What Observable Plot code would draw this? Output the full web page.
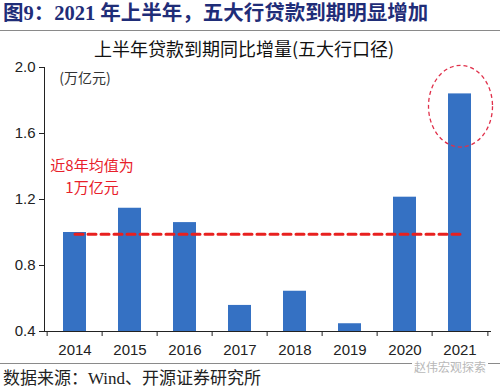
<!DOCTYPE html>
<html>
<head>
<meta charset="utf-8">
<script src="https://cdn.jsdelivr.net/npm/d3@7"></script>
<script src="https://cdn.jsdelivr.net/npm/@observablehq/plot@0.6"></script>
<style>
  html, body { margin: 0; padding: 0; background: #fff; }
  #wrap { position: relative; width: 500px; height: 392px; overflow: hidden; font-family: "Noto Sans CJK SC", sans-serif; }
  .abs { position: absolute; white-space: nowrap; }
  #title { left: 3px; top: 1px; font-size: 20.5px; font-weight: bold; color: #1f2d78; font-family: "Liberation Serif", "Noto Sans CJK SC", serif; line-height: 24px; }
  #rule1 { left: 0; top: 30px; width: 500px; height: 1px; background: #8a8a8a; }
  #subtitle { left: 0; width: 488px; top: 36px; text-align: center; font-size: 18px; color: #111; line-height: 24px; }
  #chart { position: absolute; left: 0; top: 58px; }
  #rule2 { left: 0; top: 363px; width: 500px; height: 1px; background: #8a8a8a; }
  #caption { left: 3px; top: 368px; font-size: 17px; color: #222; font-family: "Liberation Serif", "Noto Sans CJK SC", serif; line-height: 22px; }
  #wm { left: 412px; top: 361px; font-size: 12px; color: #b8b8b8; line-height: 11px; background: #fff; padding: 0 2px; }
</style>
</head>
<body>
<div id="wrap">
  <div id="title" class="abs">图9：2021 年上半年，五大行贷款到期明显增加</div>
  <div id="rule1" class="abs"></div>
  <div id="subtitle" class="abs">上半年贷款到期同比增量(五大行口径)</div>
  <div id="chart"></div>
  <div id="rule2" class="abs"></div>
  <div id="wm" class="abs">赵伟宏观探索</div>
  <div id="caption" class="abs">数据来源：Wind、开源证券研究所</div>
</div>
<script>
// ---- data ----
const years = ["2014", "2015", "2016", "2017", "2018", "2019", "2020", "2021"];
const values = [1.00, 1.147, 1.06, 0.558, 0.644, 0.447, 1.214, 1.84];
const avgValue = [0.99];
const yTicks = [0.4, 0.8, 1.2, 1.6, 2.0];
const yDomain = [0.4, 2.0];
const unitLabel = "(万亿元)";
const avgNote = "近8年均值为\n1万亿元";
const highlightYear = ["2021"];
const highlightRange = [1.515, 2.01];

const data = years.map((y, i) => ({year: y, value: values[i]}));

const W = 500, H = 305;
const mL = 44, mR = 10, mT = 9, mB = 32;
const step = (W - mL - mR) / years.length;

const ellipseMark = (index, scales, values, dimensions, context) => {
  const sx = scales.x, sy = scales.y;
  const bw = typeof sx.bandwidth === "function" ? sx.bandwidth() : (sx.bandwidth || 0);
  const cx = sx(highlightYear[0]) + bw / 2;
  const y1 = sy(highlightRange[1]), y2 = sy(highlightRange[0]);
  const el = document.createElementNS("http://www.w3.org/2000/svg", "ellipse");
  el.setAttribute("cx", cx + 1);
  el.setAttribute("cy", (y1 + y2) / 2);
  el.setAttribute("rx", 32);
  el.setAttribute("ry", (y2 - y1) / 2);
  el.setAttribute("fill", "none");
  el.setAttribute("stroke", "#e0304a");
  el.setAttribute("stroke-width", 1.3);
  el.setAttribute("stroke-dasharray", "4,3");
  return el;
};

const chart = Plot.plot({
  width: W,
  height: H,
  marginLeft: mL,
  marginRight: mR,
  marginTop: mT,
  marginBottom: mB,
  style: {fontFamily: "'Liberation Sans', Arial, sans-serif", fontSize: "15px", color: "#222", background: "transparent", overflow: "visible"},
  x: {domain: years, paddingInner: 0.58, paddingOuter: 0.29, tickSize: 0, tickPadding: 13, line: true, label: null},
  y: {domain: yDomain, ticks: yTicks, tickFormat: d3.format(".1f"), tickSize: 5, tickPadding: 4, line: true, label: null},
  marks: [
    Plot.barY(data, {x: "year", y1: yDomain[0], y2: "value", fill: "#3571c3"}),
    Plot.ruleX(years, {x: d => d, y1: yDomain[0], y2: yDomain[0], dx: -step / 2, insetBottom: -5, stroke: "#222"}),
    Plot.ruleX([years[years.length - 1]], {x: d => d, y1: yDomain[0], y2: yDomain[0], dx: step / 2, insetBottom: -5, stroke: "#222"}),
    Plot.lineY([years[0], years[years.length - 1]], {x: d => d, y: () => avgValue[0], stroke: "#e8201f", strokeWidth: 3, strokeDasharray: "8,5"}),
    Plot.text([avgNote], {x: () => years[0], y: () => 1.35, text: d => d, dx: 17, fill: "#e8202a", fontSize: 15, lineHeight: 1.45, fontFamily: "'Noto Sans CJK SC', sans-serif"}),
    Plot.text([unitLabel], {x: () => years[0], y: () => 1.933, text: d => d, dx: 10, fill: "#333", fontSize: 14, fontFamily: "'Noto Sans CJK SC', sans-serif"}),
    ellipseMark
  ]
});
document.getElementById("chart").appendChild(chart);
</script>
</body>
</html>
